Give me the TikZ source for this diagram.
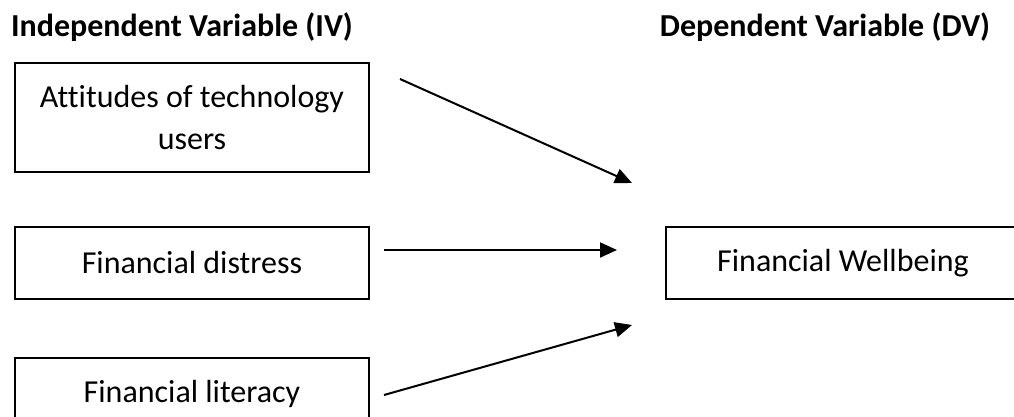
\documentclass[tikz,border=0pt]{standalone}
\usepackage{fontspec}
\setmainfont{Carlito}[Ligatures=NoCommon]
\usetikzlibrary{positioning, arrows.meta}

\tikzset{
    varbox/.style={draw, line width=2pt, minimum width=354pt, minimum height=72pt,
        align=center, font=\fontsize{32}{42}\selectfont},
    heading/.style={font=\fontsize{32}{38}\selectfont\bfseries, inner sep=0pt},
    link/.style={line width=2pt, -{Triangle[length=17pt, width=15pt]}}
}

\begin{document}
\begin{tikzpicture}[x=1pt, y=1pt]
        \useasboundingbox (0,0) rectangle (1014,417);

        \node[varbox, minimum height=109pt] (attitude) at (192,299.5) {Attitudes of technology\\users};
        \node[varbox, below=53pt of attitude] (distress) {Financial distress};
        \node[varbox, below=57pt of distress] (literacy) {Financial literacy};
        \node[varbox, right=295pt of distress] (wellbeing) {Financial Wellbeing};

        \node[heading, anchor=base] (ivtitle) at (182,380) {Independent Variable (IV)};
        \node[heading, anchor=base] (dvtitle) at (825,380) {Dependent Variable (DV)};

        % free arrow ends
        \coordinate (a1s) at (400,338);
        \coordinate (a1e) at (632,234);
        \coordinate (a2s) at (384,167);
        \coordinate (a2e) at (617,167);
        \coordinate (a3s) at (384,22);
        \coordinate (a3e) at (632,92);

        \draw[link] (a1s) -- (a1e);
        \draw[link] (a2s) -- (a2e);
        \draw[link] (a3s) -- (a3e);
\end{tikzpicture}
\end{document}
